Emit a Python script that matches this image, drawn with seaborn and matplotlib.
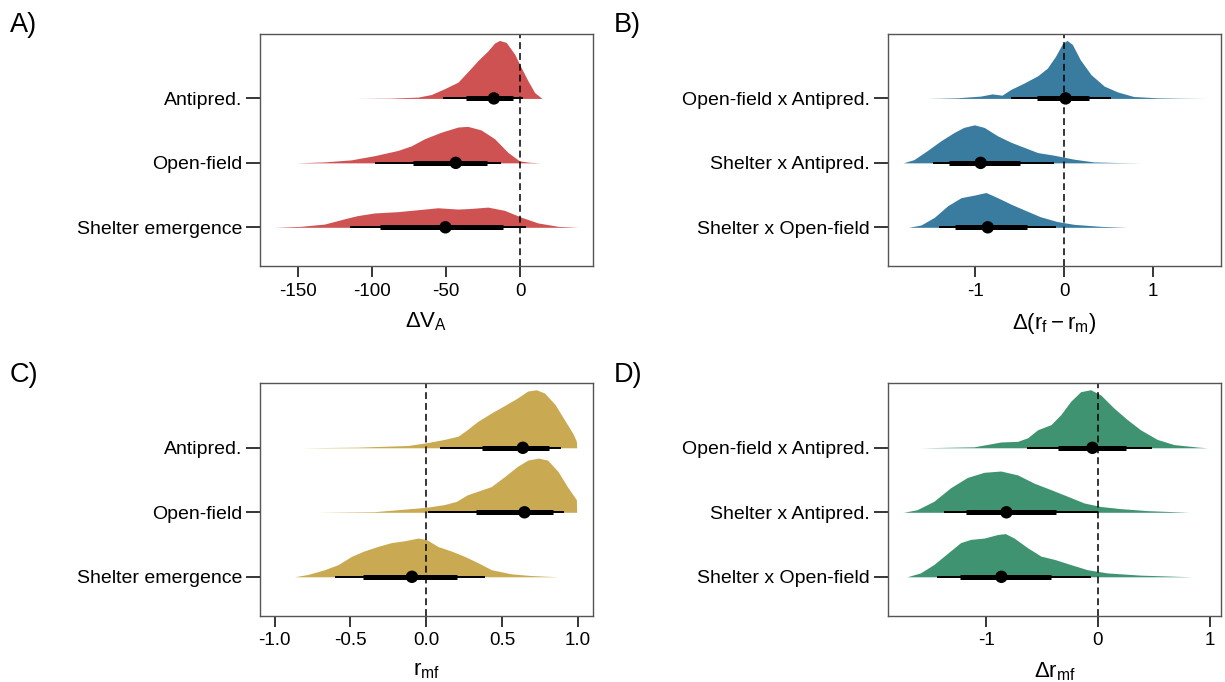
import matplotlib
matplotlib.use("Agg")
import numpy as np
import pandas as pd
import matplotlib.pyplot as plt
import seaborn as sns

# ---- data (x value, slab height as fraction of row) ----
# A) delta V_A
A_LABELS = ["Shelter emergence", "Open-field", "Antipred."]
A_SHEL_X = [-166, -148, -132, -118.7, -109.7, -98.4, -82.7, -69, -55.6, -42, -33, -21.8, -10.6, 0.7, 12, 25.5, 39]
A_SHEL_D = [0, 0.015, 0.05, 0.13, 0.18, 0.22, 0.24, 0.27, 0.30, 0.28, 0.29, 0.31, 0.26, 0.155, 0.067, 0.015, 0]
A_OPEN_X = [-151.4, -132, -114, -98.4, -82.7, -73.6, -64.6, -53.4, -42, -35.4, -26.4, -17.3, -8.3, -0.5, 6, 13.7]
A_OPEN_D = [0, 0.015, 0.046, 0.11, 0.19, 0.26, 0.37, 0.47, 0.55, 0.56, 0.505, 0.37, 0.16, 0.03, 0.01, 0]
A_ANTI_X = [-110.8, -87, -69, -60, -51, -42, -35, -28.6, -21.8, -17.3, -14, -9.5, -3.8, 0.7, 5.2, 9.7, 14.6]
A_ANTI_D = [0, 0.005, 0.02, 0.06, 0.15, 0.25, 0.42, 0.58, 0.73, 0.85, 0.89, 0.86, 0.68, 0.47, 0.27, 0.09, 0]
A_MED = [-50.5, -43.5, -17.8]
A_Q66 = [(-94.4, -11.7), (-72.5, -22.3), (-36.5, -5)]
A_Q95 = [(-115, 3.6), (-98, -12.8), (-51.8, 1.8)]

# B) delta (r_f - r_m)
B_LABELS = ["Shelter x Open-field", "Shelter x Antipred.", "Open-field x Antipred."]
B_SO_X = [-1.75, -1.61, -1.46, -1.31, -1.16, -1.01, -0.88, -0.75, -0.60, -0.45, -0.27, -0.08, 0.11, 0.41, 0.71]
B_SO_D = [0, 0.036, 0.155, 0.335, 0.46, 0.50, 0.54, 0.46, 0.36, 0.27, 0.165, 0.09, 0.046, 0.015, 0]
B_SA_X = [-1.81, -1.69, -1.54, -1.39, -1.24, -1.13, -1.01, -0.90, -0.75, -0.60, -0.45, -0.30, -0.12, 0.11, 0.33, 0.60, 0.86]
B_SA_D = [0, 0.05, 0.19, 0.34, 0.47, 0.55, 0.59, 0.55, 0.42, 0.32, 0.24, 0.16, 0.12, 0.057, 0.015, 0.005, 0]
B_OA_X = [-1.54, -1.2, -0.94, -0.81, -0.70, -0.60, -0.45, -0.30, -0.19, -0.10, -0.02, 0.03, 0.09, 0.18, 0.30, 0.45, 0.60, 0.78, 1.04, 1.30, 1.60]
B_OA_D = [0, 0.01, 0.036, 0.07, 0.05, 0.14, 0.24, 0.35, 0.47, 0.65, 0.85, 0.90, 0.84, 0.60, 0.37, 0.19, 0.10, 0.03, 0.01, 0.004, 0]
B_MED = [-0.86, -0.94, 0.015]
B_Q66 = [(-1.23, -0.42), (-1.30, -0.50), (-0.31, 0.28)]
B_Q95 = [(-1.41, -0.09), (-1.48, -0.12), (-0.60, 0.53)]

# C) r_mf
C_LABELS = ["Shelter emergence", "Open-field", "Antipred."]
C_SHEL_X = [-0.87, -0.78, -0.67, -0.58, -0.49, -0.41, -0.32, -0.23, -0.14, -0.055, 0.0, 0.077, 0.165, 0.25, 0.34, 0.43, 0.56, 0.69, 0.87]
C_SHEL_D = [0, 0.036, 0.11, 0.19, 0.32, 0.40, 0.47, 0.53, 0.56, 0.60, 0.58, 0.47, 0.40, 0.32, 0.22, 0.11, 0.046, 0.02, 0]
C_OPEN_X = [-0.725, -0.34, 0.0, 0.12, 0.20, 0.27, 0.35, 0.43, 0.52, 0.60, 0.67, 0.74, 0.80, 0.87, 0.93, 0.99, 0.992]
C_OPEN_D = [0, 0.01, 0.077, 0.12, 0.17, 0.27, 0.335, 0.40, 0.56, 0.71, 0.81, 0.84, 0.81, 0.63, 0.40, 0.196, 0]
C_ANTI_X = [-0.83, -0.45, -0.12, 0.0, 0.12, 0.21, 0.27, 0.34, 0.43, 0.52, 0.60, 0.67, 0.725, 0.78, 0.85, 0.91, 0.97, 0.99, 0.992]
C_ANTI_D = [0, 0.01, 0.036, 0.077, 0.13, 0.18, 0.28, 0.41, 0.54, 0.66, 0.77, 0.88, 0.90, 0.85, 0.67, 0.44, 0.21, 0.10, 0]
C_MED = [-0.094, 0.648, 0.637]
C_Q66 = [(-0.415, 0.20), (0.33, 0.835), (0.37, 0.81)]
C_Q95 = [(-0.60, 0.385), (0.01, 0.91), (0.088, 0.89)]

# D) delta r_mf
D_LABELS = ["Shelter x Open-field", "Shelter x Antipred.", "Open-field x Antipred."]
D_SO_X = [-1.71, -1.59, -1.47, -1.35, -1.23, -1.14, -1.02, -0.90, -0.83, -0.75, -0.63, -0.51, -0.39, -0.245, -0.095, 0.084, 0.38, 0.84]
D_SO_D = [0, 0.06, 0.19, 0.36, 0.53, 0.58, 0.60, 0.655, 0.67, 0.60, 0.45, 0.32, 0.27, 0.19, 0.11, 0.06, 0.026, 0]
D_SA_X = [-1.74, -1.62, -1.47, -1.32, -1.17, -1.02, -0.87, -0.72, -0.57, -0.42, -0.275, -0.125, 0.024, 0.20, 0.44, 0.815]
D_SA_D = [0, 0.04, 0.17, 0.38, 0.54, 0.62, 0.64, 0.58, 0.45, 0.35, 0.25, 0.145, 0.09, 0.057, 0.026, 0]
D_OA_X = [-1.59, -1.11, -0.87, -0.72, -0.63, -0.54, -0.42, -0.33, -0.245, -0.155, -0.066, 0.024, 0.14, 0.26, 0.38, 0.53, 0.68, 0.90, 0.98]
D_OA_D = [0, 0.015, 0.09, 0.10, 0.155, 0.28, 0.36, 0.52, 0.72, 0.87, 0.90, 0.82, 0.62, 0.44, 0.28, 0.13, 0.05, 0.01, 0]
D_MED = [-0.865, -0.82, -0.05]
D_Q66 = [(-1.236, -0.42), (-1.18, -0.38), (-0.36, 0.25)]
D_Q95 = [(-1.44, -0.06), (-1.38, 0.0), (-0.64, 0.48)]

# ---- style ----
sns.set_style("ticks")
plt.rcParams["font.family"] = ["Liberation Sans", "DejaVu Sans"]
plt.rcParams["text.color"] = "black"
plt.rcParams["axes.labelcolor"] = "black"
plt.rcParams["xtick.color"] = "black"
plt.rcParams["ytick.color"] = "black"
plt.rcParams["mathtext.fontset"] = "custom"
plt.rcParams["mathtext.rm"] = "Liberation Sans"
plt.rcParams["mathtext.it"] = "Liberation Sans"
plt.rcParams["mathtext.sf"] = "Liberation Sans"


def draw_panel(ax, labels, slabs, med, q66, q95, color, xlim, xticks, xticklabels, xlabel):
    # normalise slabs across the panel like ggdist normalize="all"
    peak = max(max(d) for _, d in slabs)
    for i, (xs, ds) in enumerate(slabs):
        y0 = i + 1
        h = np.array(ds) / peak * 0.9
        ax.fill_between(xs, y0, y0 + h, color=color, lw=0, zorder=1)
    ax.axvline(0, color="black", lw=1.1, ls=(0, (4.5, 2.6)), zorder=2)
    for i in range(len(labels)):
        y0 = i + 1
        ax.hlines(y0, q95[i][0], q95[i][1], color="black", lw=1.4, zorder=3)
        ax.hlines(y0, q66[i][0], q66[i][1], color="black", lw=3.6, zorder=3)
    pts = pd.DataFrame({"x": med, "y": [1, 2, 3]})
    sns.scatterplot(data=pts, x="x", y="y", ax=ax, color="black", s=80,
                    edgecolor="none", legend=False, zorder=4)
    ax.set_xlim(*xlim)
    ax.set_ylim(0.4, 4.0)
    ax.set_yticks([1, 2, 3])
    ax.set_yticklabels(labels, fontsize=14, color="black")
    ax.set_xticks(xticks)
    ax.set_xticklabels(xticklabels, fontsize=13.5, color="black")
    ax.set_xlabel(xlabel, fontsize=16, labelpad=8, color="black")
    ax.set_ylabel("")
    ax.tick_params(axis="y", length=10, width=1.1, color="black", pad=3)
    ax.tick_params(axis="x", length=8, width=1.1, color="black", pad=4)
    for s in ax.spines.values():
        s.set_color("#555555")
        s.set_linewidth(1.0)


fig = plt.figure(figsize=(12.25, 6.82), dpi=100)
axA = fig.add_axes([0.2122, 0.6100, 0.2718, 0.3402])
axB = fig.add_axes([0.7249, 0.6100, 0.2718, 0.3402])
axC = fig.add_axes([0.2122, 0.0975, 0.2718, 0.3405])
axD = fig.add_axes([0.7249, 0.0975, 0.2718, 0.3405])

draw_panel(axA, A_LABELS, [(A_SHEL_X, A_SHEL_D), (A_OPEN_X, A_OPEN_D), (A_ANTI_X, A_ANTI_D)],
           A_MED, A_Q66, A_Q95, "#CF5252", (-175.6, 49.0),
           [-150, -100, -50, 0], ["-150", "-100", "-50", "0"], r"$\Delta\mathrm{V_A}$")
draw_panel(axB, B_LABELS, [(B_SO_X, B_SO_D), (B_SA_X, B_SA_D), (B_OA_X, B_OA_D)],
           B_MED, B_Q66, B_Q95, "#3A7BA0", (-1.981, 1.761),
           [-1, 0, 1], ["-1", "0", "1"], r"$\Delta(\mathrm{r_f - r_m})$")
draw_panel(axC, C_LABELS, [(C_SHEL_X, C_SHEL_D), (C_OPEN_X, C_OPEN_D), (C_ANTI_X, C_ANTI_D)],
           C_MED, C_Q66, C_Q95, "#C9AA52", (-1.096, 1.099),
           [-1.0, -0.5, 0.0, 0.5, 1.0], ["-1.0", "-0.5", "0.0", "0.5", "1.0"], r"$\mathrm{r_{mf}}$")
draw_panel(axD, D_LABELS, [(D_SO_X, D_SO_D), (D_SA_X, D_SA_D), (D_OA_X, D_OA_D)],
           D_MED, D_Q66, D_Q95, "#409370", (-1.880, 1.101),
           [-1, 0, 1], ["-1", "0", "1"], r"$\Delta\mathrm{r_{mf}}$")

for lab, x, y in [("A)", 10, 32), ("B)", 614, 32), ("C)", 10, 382), ("D)", 614, 382)]:
    fig.text(x / 1225, 1 - y / 682, lab, fontsize=19.5, ha="left", va="baseline", color="black")

fig.savefig("out.png", dpi=100)
